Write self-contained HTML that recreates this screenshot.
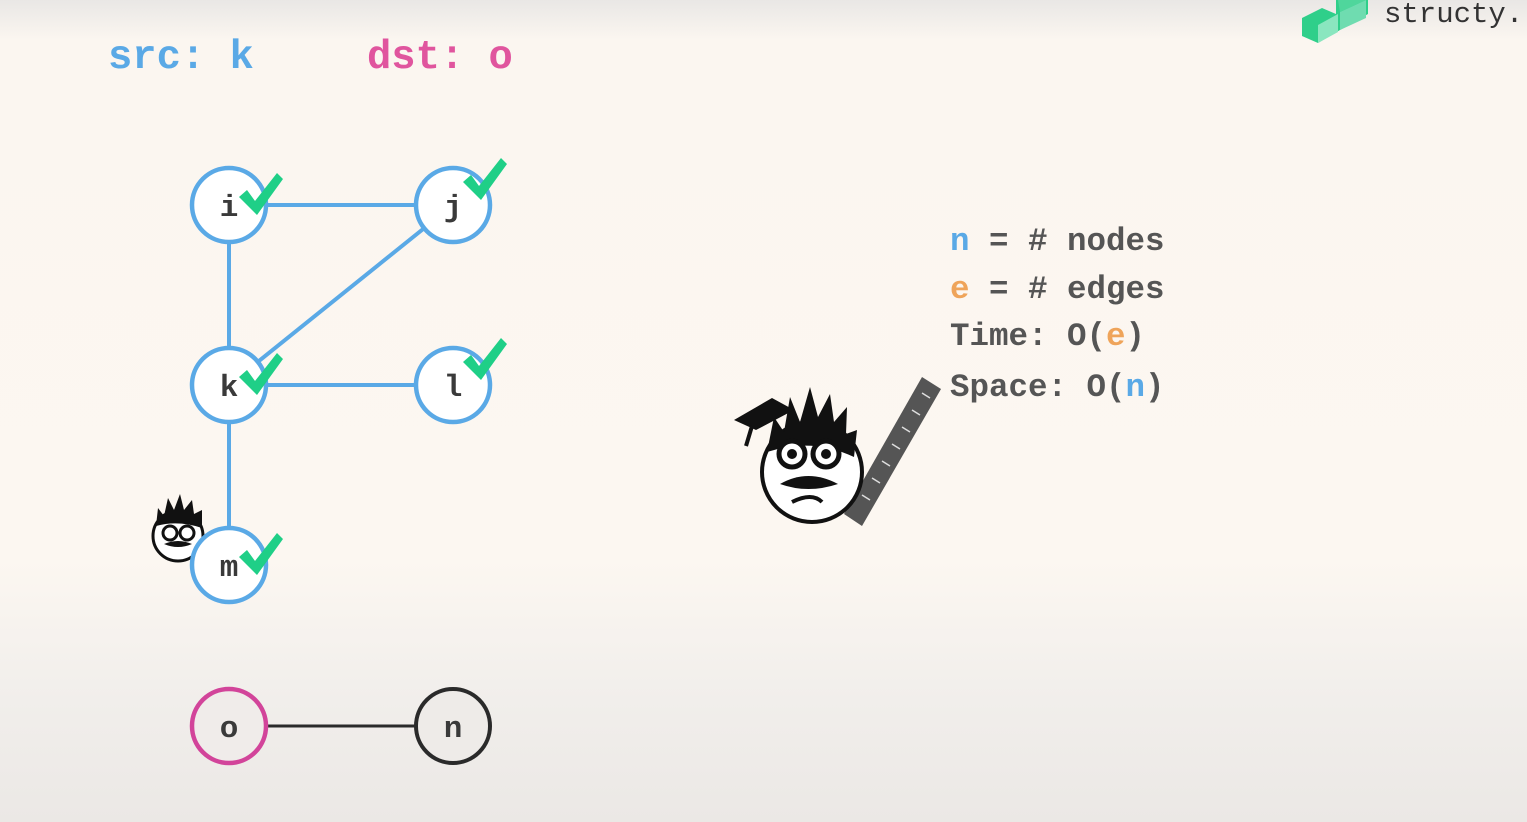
<!DOCTYPE html>
<html><head><meta charset="utf-8"><style>
html,body{margin:0;padding:0}
body{width:1527px;height:822px;overflow:hidden;background:linear-gradient(#e9e7e5 0px,#fbf6f0 40px,#fcf7f1 560px,#f1eeeb 700px,#ebe8e5 822px);}
svg{position:absolute;left:0;top:0}
</style></head><body>
<svg width="1527" height="822" viewBox="0 0 1527 822" font-family="'Liberation Mono', monospace" font-weight="bold">
<text x="108" y="68" font-size="40.5" fill="#5aa9e6">src: k</text>
<text x="367" y="68" font-size="40.5" fill="#e0559e">dst: o</text>
<!-- logo -->
<g>
<polygon points="1302,18 1322,8 1336,14 1336,0 1368,0 1368,14 1340,30 1318,43 1302,36" fill="#2fcf8a"/>
<polygon points="1318,25 1338,14 1338,32 1318,43" fill="#8ae6bf"/>
<polygon points="1340,12 1366,0 1366,18 1340,30" fill="#6fdcb0"/>
<polygon points="1338,0 1366,0 1340,12" fill="#4fd69c"/>
</g>
<text x="1384" y="22" font-size="29" font-weight="normal" fill="#333">structy.</text>
<!-- edges -->
<g stroke="#5aa9e6" stroke-width="4">
<line x1="229" y1="205" x2="453" y2="205"/>
<line x1="229" y1="205" x2="229" y2="565"/>
<line x1="453" y1="205" x2="229" y2="385"/>
<line x1="229" y1="385" x2="453" y2="385"/>
</g>
<line x1="229" y1="726" x2="453" y2="726" stroke="#2a2a2a" stroke-width="3"/>
<!-- small character near m -->
<g transform="translate(178,536)">
<circle cx="0" cy="0" r="25" fill="#fff" stroke="#111" stroke-width="3"/>
<path d="M-22,-10 L-20,-28 L-14,-20 L-10,-38 L-4,-26 L2,-42 L6,-26 L14,-36 L16,-22 L24,-26 L24,-8 Q0,-16 -22,-10Z" fill="#111"/>
<circle cx="-8" cy="-3" r="7" fill="#fff" stroke="#111" stroke-width="3"/>
<circle cx="9" cy="-3" r="7" fill="#fff" stroke="#111" stroke-width="3"/>
<path d="M-14,8 Q0,2 14,8 Q0,14 -14,8Z" fill="#111"/>
</g>
<!-- nodes -->
<g stroke="#5aa9e6" stroke-width="4.5" fill="#fff">
<circle cx="229" cy="205" r="37"/><circle cx="453" cy="205" r="37"/>
<circle cx="229" cy="385" r="37"/><circle cx="453" cy="385" r="37"/>
<circle cx="229" cy="565" r="37"/>
</g>
<circle cx="229" cy="726" r="37" fill="#f0ecea" stroke="#d2449a" stroke-width="4.5"/>
<circle cx="453" cy="726" r="37" fill="#eeebe8" stroke="#2a2a2a" stroke-width="4"/>
<g font-size="31" fill="#3a3a3a" text-anchor="middle">
<text x="229" y="216">i</text><text x="453" y="216">j</text>
<text x="229" y="396">k</text><text x="453" y="396">l</text>
<text x="229" y="576">m</text><text x="229" y="737">o</text><text x="453" y="737">n</text>
</g>
<!-- checks -->
<g fill="#1fcf87">
<path id="ck" d="M0,0 L8,-7 L16,4 L38,-24 L44,-18 L18,18 Z" transform="translate(239,197)"/>
<use href="#ck" transform="translate(224,-15)"/>
<use href="#ck" transform="translate(0,180)"/>
<use href="#ck" transform="translate(224,165)"/>
<use href="#ck" transform="translate(0,360)"/>
</g>
<!-- big character -->
<polygon points="922,377 941,389 862,526 844,514" fill="#555"/>
<g stroke="#ddd" stroke-width="1.5">
<line x1="930" y1="398" x2="922" y2="393"/><line x1="920" y1="415" x2="912" y2="410"/>
<line x1="910" y1="432" x2="902" y2="427"/><line x1="900" y1="449" x2="892" y2="444"/>
<line x1="890" y1="466" x2="882" y2="461"/><line x1="880" y1="483" x2="872" y2="478"/>
<line x1="870" y1="500" x2="862" y2="495"/>
</g>
<g transform="translate(812,472)">
<circle cx="0" cy="0" r="50" fill="#fff" stroke="#111" stroke-width="4"/>
<path d="M-45,-20 L-38,-55 L-28,-40 L-22,-75 L-12,-50 L-2,-85 L6,-55 L18,-78 L22,-50 L35,-65 L34,-38 L45,-42 L42,-15 Q0,-35 -45,-20Z" fill="#111"/>
<circle cx="-20" cy="-18" r="13" fill="#fff" stroke="#111" stroke-width="5"/>
<circle cx="14" cy="-18" r="13" fill="#fff" stroke="#111" stroke-width="5"/>
<circle cx="-20" cy="-18" r="5" fill="#111"/><circle cx="14" cy="-18" r="5" fill="#111"/>
<path d="M-32,12 Q-4,-4 26,12 Q-4,22 -32,12Z" fill="#111"/>
<path d="M-20,30 Q0,20 10,30" stroke="#111" stroke-width="4" fill="none"/>
<polygon points="-78,-52 -40,-74 -18,-62 -56,-42" fill="#111"/>
<line x1="-60" y1="-46" x2="-66" y2="-26" stroke="#111" stroke-width="4"/>
</g>
<!-- complexity -->
<g font-size="32.5" fill="#555">
<text x="950" y="250"><tspan fill="#5aa9e6">n</tspan> = # nodes</text>
<text x="950" y="298"><tspan fill="#efa45a">e</tspan> = # edges</text>
<text x="950" y="345">Time: O(<tspan fill="#efa45a">e</tspan>)</text>
<text x="950" y="396">Space: O(<tspan fill="#5aa9e6">n</tspan>)</text>
</g>
</svg>
</body></html>
